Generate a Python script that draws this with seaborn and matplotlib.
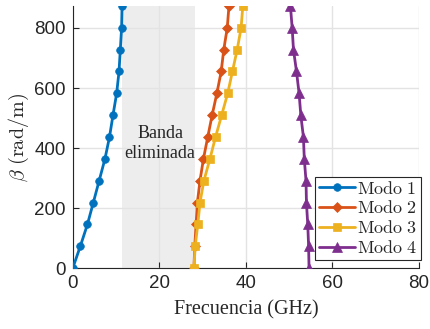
import numpy as np
import pandas as pd
import seaborn as sns
import matplotlib.pyplot as plt

# Data
beta = [0, 73, 146, 218, 291, 364, 437, 509, 582, 655, 728, 800, 873]
modo1 = [0.0, 1.75, 3.4, 4.75, 6.1, 7.45, 8.5, 9.3, 10.15, 10.7, 11.0, 11.3, 11.4]
modo2 = [28.0, 28.2, 28.5, 28.8, 29.4, 30.2, 31.2, 32.2, 33.3, 34.3, 34.9, 35.7, 36.1]
modo3 = [28.0, 28.3, 28.9, 29.4, 30.3, 31.7, 33.0, 34.4, 35.8, 36.9, 38.0, 38.9, 39.3]
modo4 = [54.6, 54.5, 54.3, 54.0, 53.9, 53.5, 53.3, 52.7, 52.3, 51.7, 51.0, 50.7, 50.3]
band = [11.3, 28.2]

labels = ['Modo 1', 'Modo 2', 'Modo 3', 'Modo 4']
colors = ['#0072BD', '#D95319', '#EDB120', '#7E2F8E']
markers = ['o', 'D', 's', '^']
msizes = [5.5, 5, 5.5, 7]

sns.set_style('white')
plt.rcParams['mathtext.fontset'] = 'cm'
plt.rcParams['font.family'] = ['Liberation Sans', 'DejaVu Sans']

fig, ax = plt.subplots(figsize=(4.3, 3.29), dpi=100)
fig.subplots_adjust(left=72.7 / 430, right=419 / 430, bottom=1 - 268.3 / 329, top=1 - 6 / 329)

# stop band
ax.axvspan(band[0], band[1], color='#ededed', zorder=0, lw=0)

for vals, lab, c, m, ms in zip([modo1, modo2, modo3, modo4], labels, colors, markers, msizes):
    df = pd.DataFrame({'f': vals, 'b': beta})
    sns.lineplot(data=df, x='f', y='b', ax=ax, sort=False, estimator=None,
                 color=c, marker=m, markersize=ms, markeredgecolor=c,
                 markeredgewidth=0.5, linewidth=2,
                 label=r'$\mathrm{' + lab.replace(' ', r'\ ') + '}$', zorder=3)

ax.text(20.2, 415, 'Banda\neliminada', ha='center', va='center',
        family='Liberation Serif', fontsize=13, linespacing=1.25)

ax.set_xlim(0, 80)
ax.set_ylim(0, 873)
ax.set_xticks([0, 20, 40, 60, 80])
ax.set_yticks([0, 200, 400, 600, 800])
ax.grid(True, color='#e3e3e3', linewidth=1)
ax.set_axisbelow(True)
ax.tick_params(direction='in', length=4, labelsize=13.5, colors='#262626',
               top=False, right=False, left=True, bottom=True, pad=5)
for s in ['top', 'right']:
    ax.spines[s].set_visible(False)
for s in ['left', 'bottom']:
    ax.spines[s].set_color('#262626')
    ax.spines[s].set_linewidth(0.8)

ax.set_xlabel('Frecuencia (GHz)', family='Liberation Serif', fontsize=14.5, labelpad=6)
ax.set_ylabel(r'$\beta\ \mathrm{(rad/m)}$', fontsize=14.5, labelpad=2)

leg = ax.legend(loc='lower right', bbox_to_anchor=(1.005, 0.03), borderaxespad=0,
                fontsize=13, handlelength=2.0, handletextpad=0.1, labelspacing=0.15,
                borderpad=0.2, fancybox=False, framealpha=1)
leg.get_frame().set_edgecolor('#262626')
leg.get_frame().set_linewidth(0.8)

fig.savefig('out.png', dpi=100)
